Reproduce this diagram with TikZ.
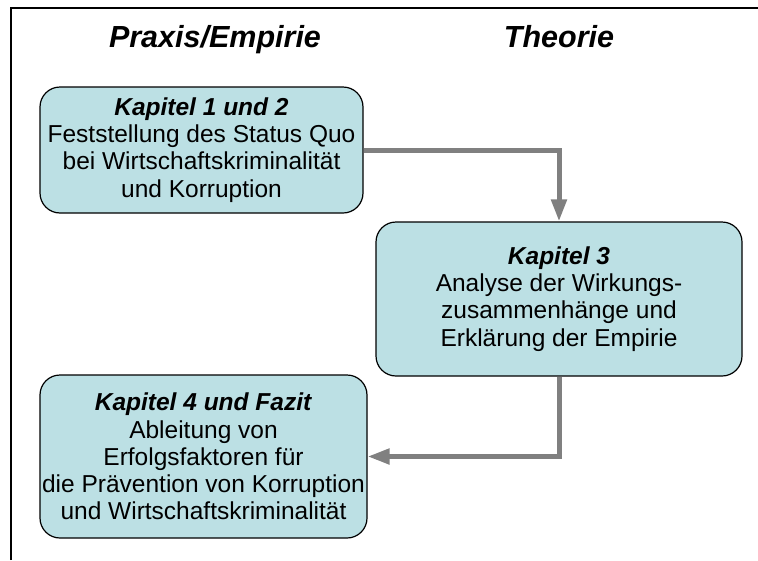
\documentclass[tikz,border=0pt]{standalone}
\usepackage{fontspec}
\setmainfont{Liberation Sans}
\usetikzlibrary{arrows.meta}
\definecolor{boxfill}{RGB}{188,224,228}
\definecolor{linkgray}{RGB}{128,128,128}
\tikzset{
  kapbox/.style={draw=black,line width=1.2pt,fill=boxfill,rounded corners=20pt,
    align=center,inner sep=0pt,font=\fontsize{24.5}{27.2}\selectfont},
  header/.style={anchor=base,font=\fontsize{30.5}{32}\selectfont\bfseries\itshape},
  link/.style={draw=linkgray,line width=5pt,-{Triangle[length=22pt,width=15pt]}}
}
\begin{document}
\begin{tikzpicture}[x=1pt,y=-1pt]
\useasboundingbox (0,0) rectangle (758,560);
\draw[line width=2.8pt] (11,560)--(11,8)--(758,8);
\node[header] (praxis) at (215,47) {Praxis/Empirie};
\node[header] (theorie) at (559,47) {Theorie};
\node[kapbox,minimum width=323pt,minimum height=126pt] (kap12) at (201.5,150)
  {\textbf{\textit{Kapitel 1 und 2}}\\Feststellung des Status Quo\\bei Wirtschaftskriminalität\\und Korruption};
\node[kapbox,minimum width=366pt,minimum height=154pt] (kap3) at (559,299)
  {\textbf{\textit{Kapitel 3}}\\Analyse der Wirkungs-\\zusammenhänge und\\Erklärung der Empirie};
\node[kapbox,minimum width=327pt,minimum height=163pt] (kap4) at (203.5,456.5)
  {\textbf{\textit{Kapitel 4 und Fazit}}\\Ableitung von\\Erfolgsfaktoren für\\die Prävention von Korruption\\und Wirtschaftskriminalität};
\draw[link] (kap12.east) -| (kap3.north);
\draw[link] (kap3.south) |- (kap4.east);
\end{tikzpicture}
\end{document}
